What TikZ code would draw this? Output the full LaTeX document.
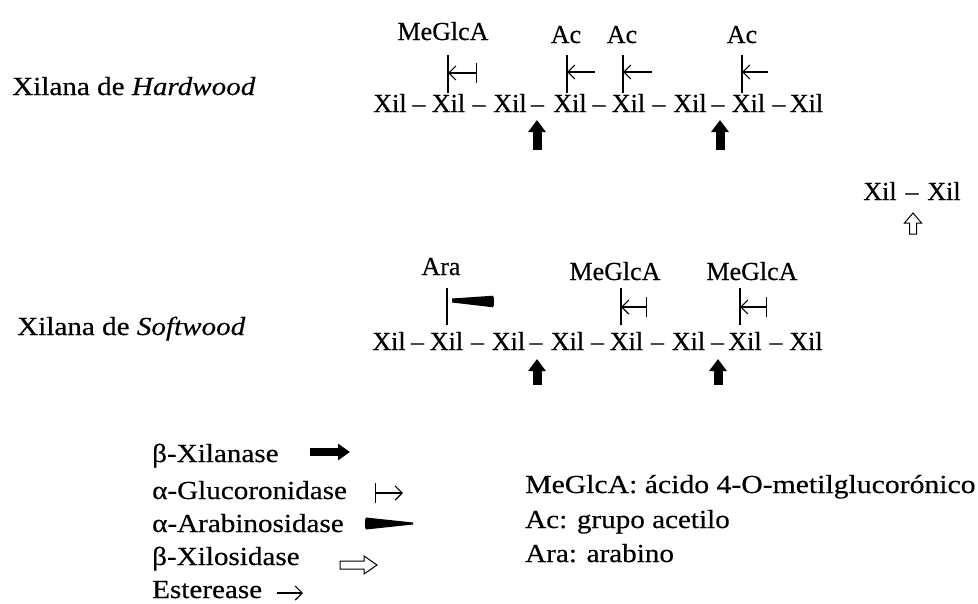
\documentclass[tikz,border=0pt]{standalone}
\usepackage{fontspec}
\setmainfont{Liberation Serif}[FakeStretch=1.12, FakeBold=0.4]
\newfontfamily\chainfont{Liberation Serif}[FakeBold=0.4, Ligatures=TeX]
\usetikzlibrary{arrows.meta}

\tikzset{
  txt/.style={inner sep=0pt, anchor=base, font=\fontsize{26}{30}\selectfont},
  ctxt/.style={txt, font=\fontsize{26}{30}\selectfont\chainfont},
  ltxt/.style={txt, anchor=base west},
  link/.style={line width=1.3pt},
  gluco/.style={line width=1.2pt, {Bar[width=20pt]}-{Straight Barb[length=7pt,width=14pt]}},
  ester/.style={line width=1.2pt, -{Straight Barb[length=7pt,width=14pt]}},
  xylan/.style={line width=9pt, -{Triangle[length=12pt,width=17pt]}},
  xylos/.style={line width=1pt, fill=white},
  arab/.style={fill=black}
}

\begin{document}
\begin{tikzpicture}[x=1pt,y=-1pt]
\useasboundingbox (0,0) rectangle (978,603);

% ---------- side labels ----------
\node[ltxt] (hw) at (12,95) {Xilana de \textit{Hardwood}};
\node[ltxt] (sw) at (17,335) {Xilana de \textit{Softwood}};

% ---------- hardwood chain ----------
\foreach \i/\x in {1/390,2/448.5,3/510,4/570,5/628.5,6/690,7/748.5,8/806.5}
  \node[ctxt] (h\i) at (\x,112) {Xil};
\foreach \i/\x in {1/419,2/479,3/537.5,4/599,5/659,6/718,7/779}
  \node[ctxt] (hd\i) at (\x,112) {–};

\node[ctxt] (hm) at (443,40) {MeGlcA};
\node[ctxt] (ha1) at (566,43) {Ac};
\node[ctxt] (ha2) at (622,43) {Ac};
\node[ctxt] (ha3) at (742,43) {Ac};

\coordinate (hmt) at (448,55);   \coordinate (hmb) at (448,93);
\coordinate (ha1t) at (567,55);  \coordinate (ha1b) at (567,93);
\coordinate (ha2t) at (623,55);  \coordinate (ha2b) at (623,93);
\coordinate (ha3t) at (742,55);  \coordinate (ha3b) at (742,93);
\draw[link] (hmt) -- (hmb);
\draw[link] (ha1t) -- (ha1b);
\draw[link] (ha2t) -- (ha2b);
\draw[link] (ha3t) -- (ha3b);

\coordinate (hmg) at (477,73);
\draw[gluco] (hmg) -- (hmg -| hmt);
\coordinate (he1) at (595,72);
\draw[ester] (he1) -- (he1 -| ha1t);
\coordinate (he2) at (652,72);
\draw[ester] (he2) -- (he2 -| ha2t);
\coordinate (he3) at (768,72);
\draw[ester] (he3) -- (he3 -| ha3t);

\coordinate (hx1) at (537,150);
\draw[xylan] (hx1) -- ++(0,-30);
\coordinate (hx2) at (720,150);
\draw[xylan] (hx2) -- ++(0,-30);

% ---------- xylobiose ----------
\node[ctxt] (xb1) at (880,200) {Xil};
\node[ctxt] (xbd) at (912,200) {–};
\node[ctxt] (xb2) at (944,200) {Xil};
\draw[xylos, shift={(913,213)}] (0,0) -- (8.5,10) -- (3.5,10) -- (3.5,21) -- (-3.5,21) -- (-3.5,10) -- (-8.5,10) -- cycle;

% ---------- softwood chain ----------
\foreach \i/\x in {1/389,2/446.5,3/508.5,4/567.5,5/626.5,6/688.5,7/745,8/806}
  \node[ctxt] (s\i) at (\x,350) {Xil};
\foreach \i/\x in {1/417.5,2/477.5,3/536,4/597.5,5/657.5,6/717.5,7/776}
  \node[ctxt] (sd\i) at (\x,350) {–};

\node[ctxt] (sa) at (441,275) {Ara};
\node[ctxt] (sm1) at (615,280) {MeGlcA};
\node[ctxt] (sm2) at (752,280) {MeGlcA};

\coordinate (sat) at (447,288);   \coordinate (sab) at (447,325);
\coordinate (sm1t) at (621,288);  \coordinate (sm1b) at (621,325);
\coordinate (sm2t) at (740,288);  \coordinate (sm2b) at (740,325);
\draw[link] (sat) -- (sab);
\draw[link] (sm1t) -- (sm1b);
\draw[link] (sm2t) -- (sm2b);

\fill[arab] (452,298.5) -- (493,295.7) to[out=0,in=0,looseness=0.3] (493,307.3) -- (452,302.5) -- cycle;
\coordinate (sg1) at (647,307);
\draw[gluco] (sg1) -- (sg1 -| sm1t);
\coordinate (sg2) at (767,307);
\draw[gluco] (sg2) -- (sg2 -| sm2t);

\coordinate (sx1) at (537,385);
\draw[xylan] (sx1) -- ++(0,-26);
\coordinate (sx2) at (718,385);
\draw[xylan] (sx2) -- ++(0,-26);

% ---------- enzyme legend ----------
\node[ltxt] (l1) at (152,462) {β-Xilanase};
\node[ltxt] (l2) at (152,499) {α-Glucoronidase};
\node[ltxt] (l3) at (152,532) {α-Arabinosidase};
\node[ltxt] (l4) at (152,565) {β-Xilosidase};
\node[ltxt] (l5) at (152,598) {Esterease};

\coordinate (k1) at (310,452);
\draw[xylan, line width=8pt, -{Triangle[length=12pt,width=16pt]}] (k1) -- ++(40,0);
\coordinate (k2) at (375,493);
\draw[gluco] (k2) -- ++(28,0);
\fill[arab] (413,522.5) -- (366,517.5) to[out=180,in=180,looseness=0.3] (366,529.5) -- (413,524.5) -- cycle;
\draw[xylos, shift={(340,565)}] (0,-4) -- (24,-4) -- (24,-9) -- (37,0) -- (24,9) -- (24,4) -- (0,4) -- cycle;
\coordinate (k5) at (277,593);
\draw[ester] (k5) -- ++(26,0);

% ---------- abbreviations ----------
\node[ltxt] (m1) at (525,493) {\scalebox{1.02}[1]{MeGlcA: ácido 4-O-metilglucorónico}};
\node[ltxt] (m2) at (525,528) {Ac: grupo acetilo};
\node[ltxt] (m3) at (525,562) {Ara: arabino};
\end{tikzpicture}
\end{document}
